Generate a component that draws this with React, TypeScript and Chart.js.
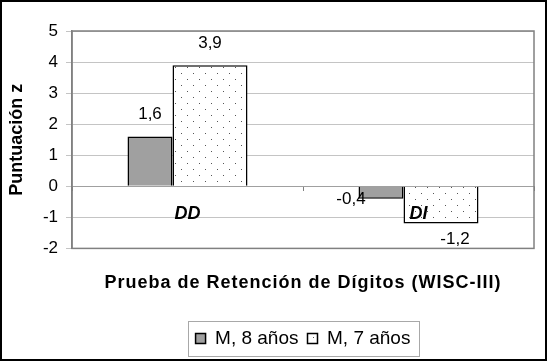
import React, { useEffect, useRef } from "react";
import { Chart, registerables } from "chart.js";

Chart.register(...registerables);

const CATEGORIES = ["DD", "DI"];
const SERIES_NAMES = ["M, 8 años", "M, 7 años"];
const SERIES_8 = [1.6, -0.4];
const SERIES_7 = [3.9, -1.2];
const Y_MIN = -2;
const Y_MAX = 5;
const Y_STEP = 1;
const Y_TITLE = "Puntuación z";
const X_TITLE = "Prueba de Retención de Dígitos (WISC-III)";

const FONT = "'Liberation Sans', Arial, sans-serif";

function makeDotPattern(): CanvasPattern | string {
  const c = document.createElement("canvas");
  c.width = 12;
  c.height = 12;
  const g = c.getContext("2d");
  if (!g) return "#ffffff";
  g.fillStyle = "#ffffff";
  g.fillRect(0, 0, 12, 12);
  g.fillStyle = "#555555";
  g.fillRect(1, 1, 1, 1);
  g.fillRect(7, 7, 1, 1);
  return g.createPattern(c, "repeat") || "#ffffff";
}

const fmt = (v: number) => v.toFixed(1).replace(".", ",");

const framePlugin = {
  id: "frame",
  beforeDraw(chart: any) {
    const { ctx, width, height } = chart;
    ctx.save();
    ctx.fillStyle = "#ffffff";
    ctx.fillRect(0, 0, width, height);
    ctx.restore();
  },
  afterDraw(chart: any) {
    const { ctx, width, height, chartArea } = chart;
    ctx.save();
    // plot area box
    ctx.strokeStyle = "#808080";
    ctx.lineWidth = 1.5;
    ctx.strokeRect(chartArea.left, chartArea.top, chartArea.right - chartArea.left, chartArea.bottom - chartArea.top);
    // legend box
    const lg = chart.legend;
    if (lg && lg.legendHitBoxes && lg.legendHitBoxes.length) {
      const hb = lg.legendHitBoxes;
      let l = Infinity, r = -Infinity, t = Infinity, b = -Infinity;
      hb.forEach((h: any) => {
        l = Math.min(l, h.left);
        r = Math.max(r, h.left + h.width);
        t = Math.min(t, h.top);
        b = Math.max(b, h.top + h.height);
      });
      const cy = (t + b) / 2;
      ctx.strokeStyle = "#a8a8a8";
      ctx.lineWidth = 1;
      ctx.strokeRect(Math.round(l - 8) + 0.5, Math.round(cy - 17.5) + 0.5, Math.round(r - l + 16), 35);
    }
    // outer frame
    ctx.strokeStyle = "#000000";
    ctx.lineWidth = 2;
    ctx.strokeRect(1, 1, width - 2, height - 2);
    ctx.restore();
  },
};

const valueLabelPlugin = {
  id: "valueLabels",
  afterDatasetsDraw(chart: any) {
    const { ctx } = chart;
    ctx.save();
    ctx.font = `17px ${FONT}`;
    ctx.fillStyle = "#000000";
    ctx.textAlign = "center";
    ctx.textBaseline = "middle";
    chart.data.datasets.forEach((ds: any, di: number) => {
      const meta = chart.getDatasetMeta(di);
      meta.data.forEach((el: any, i: number) => {
        const v = ds.data[i];
        const p = el.getProps(["x", "y", "base"], true);
        let x = p.x;
        let y: number;
        if (v >= 0) {
          y = p.y - 22;
        } else if (di === 0) {
          x = p.x - 30;
          y = p.y + 1;
        } else {
          x = p.x + 14;
          y = p.y + 16;
        }
        ctx.fillText(fmt(v), x, y);
      });
    });
    ctx.restore();
  },
};

export default function App() {
  const ref = useRef<HTMLCanvasElement | null>(null);

  useEffect(() => {
    document.body.style.margin = "0";
    if (!ref.current) return;
    const dots = makeDotPattern();
    const chart = new Chart(ref.current, {
      type: "bar",
      data: {
        labels: CATEGORIES,
        datasets: [
          {
            label: SERIES_NAMES[0],
            data: SERIES_8,
            backgroundColor: "#a0a0a0",
            borderColor: "#000000",
            borderWidth: 1.5,
            categoryPercentage: 150 / 231,
            barPercentage: 0.6,
          },
          {
            label: SERIES_NAMES[1],
            data: SERIES_7,
            backgroundColor: dots as any,
            borderColor: "#000000",
            borderWidth: 1.5,
            categoryPercentage: 90 / 231,
            barPercentage: 5 / 3,
          },
        ],
      },
      options: {
        animation: false,
        responsive: false,
        events: [],
        layout: { padding: { top: 31, right: 13, left: 0, bottom: 3 } },
        scales: {
          x: {
            type: "category",
            position: { y: 0 } as any,
            offset: true,
            grid: {
              display: true,
              drawOnChartArea: false,
              drawTicks: true,
              tickLength: 4,
              color: "#808080",
              offset: true,
            },
            border: { display: true, color: "#a0a0a0", width: 1 },
            ticks: {
              z: 1,
              color: "#000000",
              padding: 13,
              font: { family: FONT, size: 18, weight: "bold", style: "italic" },
            },
          },
          y: {
            min: Y_MIN,
            max: Y_MAX,
            afterFit: (scale: any) => {
              scale.width = 72;
            },
            ticks: {
              stepSize: Y_STEP,
              color: "#000000",
              padding: 8,
              font: { family: FONT, size: 17 },
            },
            grid: {
              color: "#c4c4c4",
              lineWidth: 1,
              tickLength: 6,
            },
            border: { display: true, color: "#808080", width: 1.5 },
            title: {
              display: true,
              text: Y_TITLE,
              color: "#000000",
              padding: { top: 6, bottom: 0 },
              font: { family: FONT, size: 18, weight: "bold" },
            },
          },
        },
        plugins: {
          tooltip: { enabled: false },
          title: {
            display: true,
            text: X_TITLE,
            position: "bottom",
            fullSize: false,
            weight: 500,
            color: "#000000",
            padding: { top: 24, bottom: 26 },
            font: { family: FONT, size: 18, weight: "bold" },
          } as any,
          legend: {
            display: true,
            position: "bottom",
            fullSize: false,
            weight: 1000,
            labels: {
              color: "#000000",
              boxWidth: 10,
              boxHeight: 10,
              padding: 9,
              font: { family: FONT, size: 19 },
            },
          } as any,
        },
      },
      plugins: [framePlugin, valueLabelPlugin],
    });
    // Excel-like slightly widened title lettering
    const tb = (chart as any).titleBlock;
    if (tb) {
      const orig = tb.draw.bind(tb);
      tb.draw = (...args: any[]) => {
        const c: any = chart.ctx;
        c.save();
        c.letterSpacing = "1px";
        orig(...args);
        c.restore();
      };
      chart.draw();
    }
    return () => chart.destroy();
  }, []);

  return (
    <div style={{ width: 547, height: 361 }}>
      <canvas ref={ref} width={547} height={361} style={{ display: "block" }} />
    </div>
  );
}
